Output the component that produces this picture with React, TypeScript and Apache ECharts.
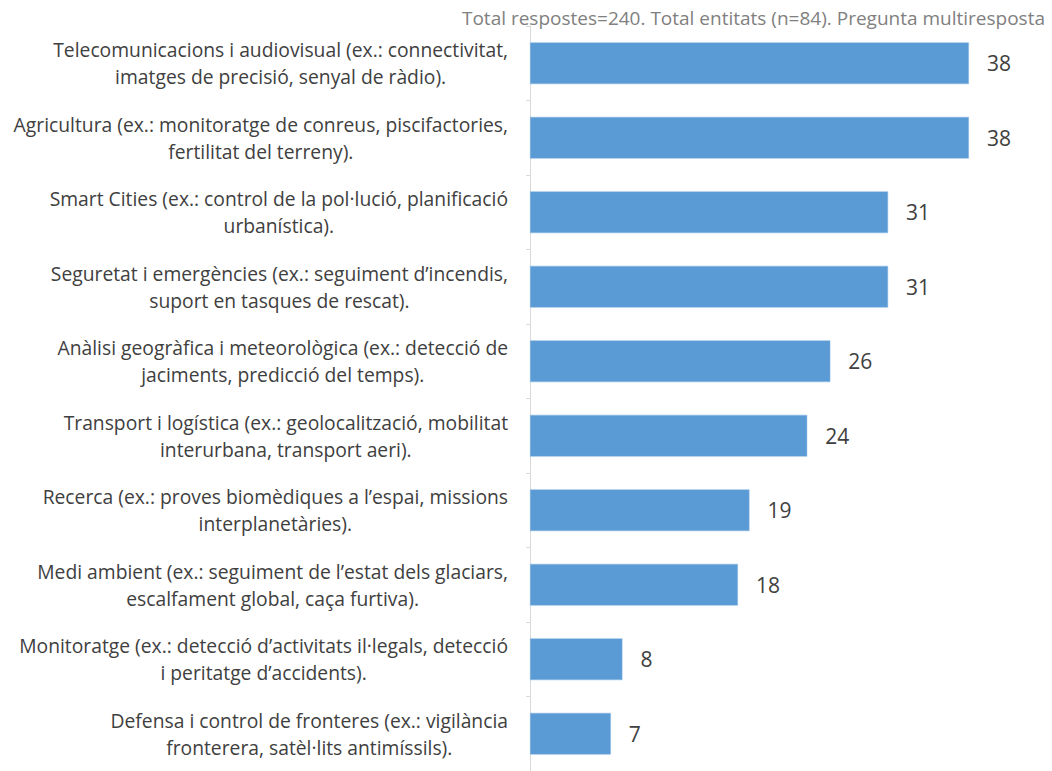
import React, { useEffect, useRef } from "react";
import * as echarts from "echarts";

const categories: string[] = [
  "Telecomunicacions i audiovisual (ex.: connectivitat,\nimatges de precisió, senyal de ràdio).",
  "Agricultura (ex.: monitoratge de conreus, piscifactories,\nfertilitat del terreny).",
  "Smart Cities (ex.: control de la pol·lució, planificació\nurbanística).",
  "Seguretat i emergències (ex.: seguiment d’incendis,\nsuport en tasques de rescat).",
  "Anàlisi geogràfica i meteorològica (ex.: detecció de\njaciments, predicció del temps).",
  "Transport i logística (ex.: geolocalització, mobilitat\ninterurbana, transport aeri).",
  "Recerca (ex.: proves biomèdiques a l’espai, missions\ninterplanetàries).",
  "Medi ambient (ex.: seguiment de l’estat dels glaciars,\nescalfament global, caça furtiva).",
  "Monitoratge (ex.: detecció d’activitats il·legals, detecció\ni peritatge d’accidents).",
  "Defensa i control de fronteres (ex.: vigilància\nfronterera, satèl·lits antimíssils).",
];

const values: number[] = [38, 38, 31, 31, 26, 24, 19, 18, 8, 7];

const subtitle = "Total respostes=240. Total entitats (n=84). Pregunta multiresposta";

export default function App() {
  const ref = useRef<HTMLDivElement>(null);
  useEffect(() => {
    if (!ref.current) return;
    const chart = echarts.init(ref.current, undefined, { renderer: "svg" });
    const font = "'Open Sans', sans-serif";
    chart.setOption({
      animation: false,
      textStyle: { fontFamily: font },
      title: {
        text: subtitle,
        right: 2,
        top: 3,
        textStyle: { fontSize: 19, fontWeight: "normal", color: "#808080", fontFamily: font },
      },
      grid: { left: 530, right: 60, top: 26, bottom: -6, containLabel: false },
      xAxis: {
        type: "value",
        min: 0,
        max: 40,
        show: false,
      },
      yAxis: {
        type: "category",
        inverse: true,
        data: categories,
        axisLine: { show: true, lineStyle: { color: "#d9d9d9", width: 1 } },
        axisTick: { show: true, length: 4, lineStyle: { color: "#d9d9d9" } },
        axisLabel: {
          margin: 22,
          align: "right",
          formatter: (v: string) =>
            v
              .split("\n")
              .map((l) => `{a|${l}}`)
              .join("\n"),
          rich: {
            a: {
              align: "center",
              fontSize: 19.3,
              lineHeight: 27,
              color: "#404040",
              fontFamily: font,
            },
          },
        },
      },
      series: [
        {
          type: "bar",
          data: values,
          barWidth: "56%",
          itemStyle: { color: "#5b9bd5", borderColor: "#8ab8e3", borderWidth: 0.5 },
          label: {
            show: true,
            position: "right",
            distance: 18,
            fontSize: 21,
            color: "#404040",
            fontFamily: font,
          },
        },
      ],
    });
    return () => chart.dispose();
  }, []);
  return (
    <div
      ref={ref}
      style={{ position: "absolute", left: 0, top: 0, width: 1052, height: 771, background: "#fff" }}
    />
  );
}
